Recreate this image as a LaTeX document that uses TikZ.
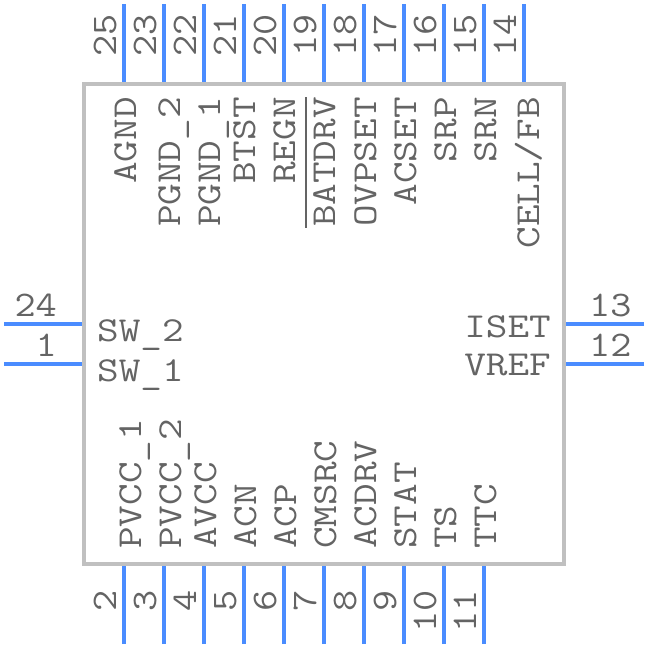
\documentclass[tikz,border=0pt]{standalone}
\usepackage{fontspec}
\setmonofont[FakeStretch=1.2]{Latin Modern Mono}
\newfontfamily\pinfont[FakeStretch=1.14]{Latin Modern Mono}
\usepackage{xcolor}
\usepackage{tikz}
\definecolor{pinblue}{HTML}{4A8CFF}
\definecolor{bodygrey}{HTML}{C0C0C0}
\definecolor{textgrey}{HTML}{646464}
\newcommand{\lowbar}{\raisebox{-2pt}{\_}}
\tikzset{
	pinline/.style={draw=pinblue,line width=4pt},
	bodyline/.style={draw=bodygrey,line width=4pt},
	barline/.style={draw=textgrey,line width=1.4pt},
	lab/.style={inner sep=0pt,text=textgrey,font=\ttfamily\fontsize{35}{35}\selectfont},
	num/.style={inner sep=0pt,text=textgrey,font=\pinfont\fontsize{36}{36}\selectfont},
	labt/.style={lab,rotate=90,anchor=base east},
	labb/.style={lab,rotate=90,anchor=base west},
	numt/.style={num,rotate=90,anchor=base west},
	numb/.style={num,rotate=90,anchor=base east}
}
\begin{document}
\begin{tikzpicture}[x=1pt,y=-1pt]
\useasboundingbox (0,0) rectangle (648,648);
\coordinate (bodya) at (84,84);
\coordinate (bodyb) at (564,564);
\draw[bodyline] (bodya) rectangle (bodyb);
%
\coordinate (o25) at (124,4);   \coordinate (i25) at (124,82);
\coordinate (o23) at (164,4);   \coordinate (i23) at (164,82);
\coordinate (o22) at (204,4);   \coordinate (i22) at (204,82);
\coordinate (o21) at (244,4);   \coordinate (i21) at (244,82);
\coordinate (o20) at (284,4);   \coordinate (i20) at (284,82);
\coordinate (o19) at (324,4);   \coordinate (i19) at (324,82);
\coordinate (o18) at (364,4);   \coordinate (i18) at (364,82);
\coordinate (o17) at (404,4);   \coordinate (i17) at (404,82);
\coordinate (o16) at (444,4);   \coordinate (i16) at (444,82);
\coordinate (o15) at (484,4);   \coordinate (i15) at (484,82);
\coordinate (o14) at (524,4);   \coordinate (i14) at (524,82);
\coordinate (o2) at (124,644);  \coordinate (i2) at (124,566);
\coordinate (o3) at (164,644);  \coordinate (i3) at (164,566);
\coordinate (o4) at (204,644);  \coordinate (i4) at (204,566);
\coordinate (o5) at (244,644);  \coordinate (i5) at (244,566);
\coordinate (o6) at (284,644);  \coordinate (i6) at (284,566);
\coordinate (o7) at (324,644);  \coordinate (i7) at (324,566);
\coordinate (o8) at (364,644);  \coordinate (i8) at (364,566);
\coordinate (o9) at (404,644);  \coordinate (i9) at (404,566);
\coordinate (o10) at (444,644); \coordinate (i10) at (444,566);
\coordinate (o11) at (484,644); \coordinate (i11) at (484,566);
\coordinate (o24) at (4,324);   \coordinate (i24) at (82,324);
\coordinate (o1) at (4,364);    \coordinate (i1) at (82,364);
\coordinate (o13) at (644,324); \coordinate (i13) at (566,324);
\coordinate (o12) at (644,364); \coordinate (i12) at (566,364);
%
\draw[pinline] (o25) -- (i25);
\draw[pinline] (o23) -- (i23);
\draw[pinline] (o22) -- (i22);
\draw[pinline] (o21) -- (i21);
\draw[pinline] (o20) -- (i20);
\draw[pinline] (o19) -- (i19);
\draw[pinline] (o18) -- (i18);
\draw[pinline] (o17) -- (i17);
\draw[pinline] (o16) -- (i16);
\draw[pinline] (o15) -- (i15);
\draw[pinline] (o14) -- (i14);
\draw[pinline] (o2) -- (i2);
\draw[pinline] (o3) -- (i3);
\draw[pinline] (o4) -- (i4);
\draw[pinline] (o5) -- (i5);
\draw[pinline] (o6) -- (i6);
\draw[pinline] (o7) -- (i7);
\draw[pinline] (o8) -- (i8);
\draw[pinline] (o9) -- (i9);
\draw[pinline] (o10) -- (i10);
\draw[pinline] (o11) -- (i11);
\draw[pinline] (o24) -- (i24);
\draw[pinline] (o1) -- (i1);
\draw[pinline] (o13) -- (i13);
\draw[pinline] (o12) -- (i12);
%
\node[numt] (n25) at (116,57) {25};
\node[numt] (n23) at (156,57) {23};
\node[numt] (n22) at (196,57) {22};
\node[numt] (n21) at (236,57) {21};
\node[numt] (n20) at (276,57) {20};
\node[numt] (n19) at (316,57) {19};
\node[numt] (n18) at (356,57) {18};
\node[numt] (n17) at (396,57) {17};
\node[numt] (n16) at (436,57) {16};
\node[numt] (n15) at (476,57) {15};
\node[numt] (n14) at (516,57) {14};
\node[numb] (n2) at (116,590) {2};
\node[numb] (n3) at (156,590) {3};
\node[numb] (n4) at (196,590) {4};
\node[numb] (n5) at (236,590) {5};
\node[numb] (n6) at (276,590) {6};
\node[numb] (n7) at (316,590) {7};
\node[numb] (n8) at (356,590) {8};
\node[numb] (n9) at (396,590) {9};
\node[numb] (n10) at (436,590) {10};
\node[numb] (n11) at (476,590) {11};
\node[num,anchor=base east] (n24) at (57,316) {24};
\node[num,anchor=base east] (n1) at (57,356) {1};
\node[num,anchor=base west] (n13) at (589,316) {13};
\node[num,anchor=base west] (n12) at (589,356) {12};
%
\node[labt] (agnd) at (136,97) {AGND};
\node[labt] (pgndb) at (180,97) {PGND\lowbar 2};
\node[labt] (pgnda) at (220,97) {PGND\lowbar 1};
\node[labt] (btst) at (255,97) {BTST};
\node[labt] (regn) at (295,97) {REGN};
\node[labt] (batdrv) at (335,97) {BATDRV};
\node[labt] (ovpset) at (376,97) {OVPSET};
\node[labt] (acset) at (416,97) {ACSET};
\node[labt] (srp) at (456,97) {SRP};
\node[labt] (srn) at (496,97) {SRN};
\node[labt] (cell) at (539,97) {CELL/FB};
\node[labb] (pvcca) at (141,549) {PVCC\lowbar 1};
\node[labb] (pvccb) at (181,549) {PVCC\lowbar 2};
\node[labb] (avcc) at (216,549) {AVCC};
\node[labb] (acn) at (256,549) {ACN};
\node[labb] (acp) at (296,549) {ACP};
\node[labb] (cmsrc) at (336,549) {CMSRC};
\node[labb] (acdrv) at (376,549) {ACDRV};
\node[labb] (stat) at (416,549) {STAT};
\node[labb] (ts) at (456,549) {TS};
\node[labb] (ttc) at (496,549) {TTC};
\node[lab,anchor=base west] (swb) at (97,341) {SW\lowbar 2};
\node[lab,anchor=base west] (swa) at (97,381) {SW\lowbar 1};
\node[lab,anchor=base east] (iset) at (551,337) {ISET};
\node[lab,anchor=base east] (vref) at (551,375) {VREF};
%
\coordinate (bara) at (306,97);
\coordinate (barb) at (306,228);
\draw[barline] (bara) -- (barb);
\end{tikzpicture}
\end{document}
